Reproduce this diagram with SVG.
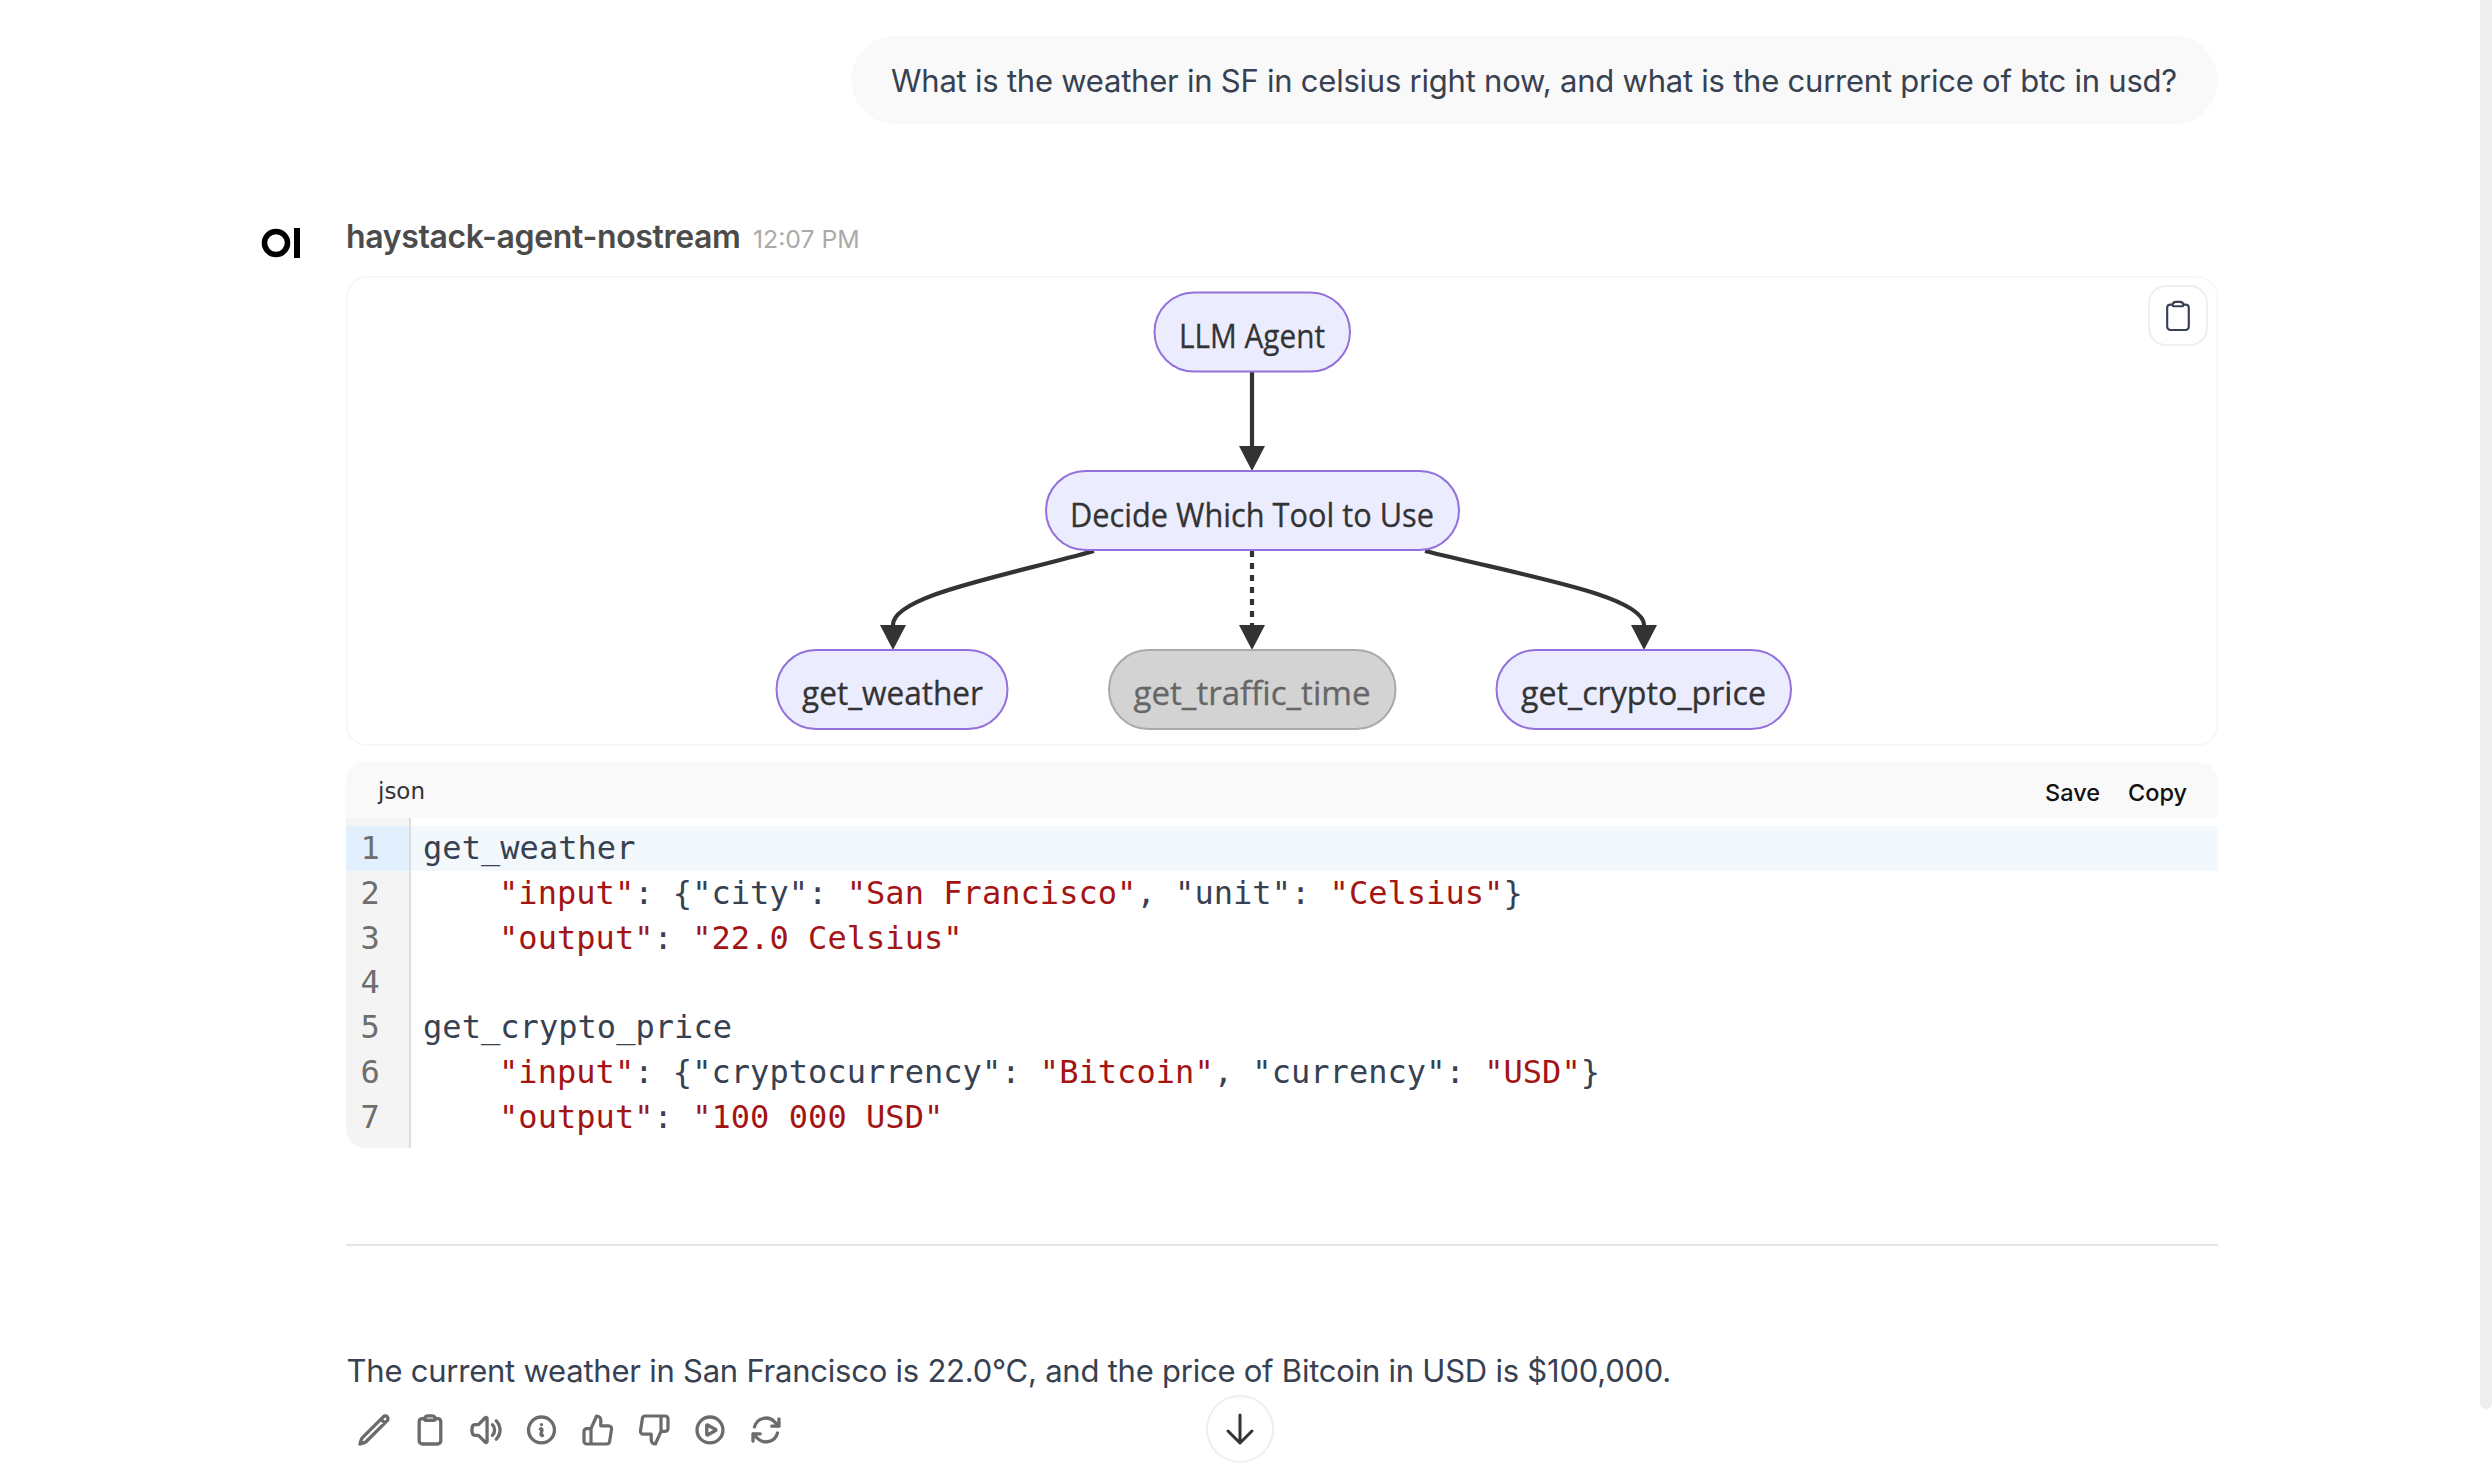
<svg xmlns="http://www.w3.org/2000/svg" width="2492" height="1470" viewBox="0 0 2492 1470">
<style>
text{white-space:pre}
.ui{font-family:Inter,"Noto Sans",sans-serif;font-size:31px;letter-spacing:-.23px;fill:#374151}
.mono{font-family:"DejaVu Sans Mono","Liberation Mono",monospace;font-size:32px;letter-spacing:.05px;fill:#374151}
.r{fill:#a31515}
.ln{font-family:"DejaVu Sans Mono","Liberation Mono",monospace;font-size:32px;fill:#6e6e6e}
.node{fill:#ececff;stroke:#9370db;stroke-width:2}
.off{fill:#d3d3d3;stroke:#aaa;stroke-width:2}
.nt{font-family:"Open Sans","Noto Sans",sans-serif;font-size:32px;fill:#333;stroke:#333;stroke-width:.3;text-anchor:middle}
.edge{fill:none;stroke:#333;stroke-width:4.2}
.ic{fill:none;stroke:#6b6b6b;stroke-width:2.3;stroke-linecap:round;stroke-linejoin:round}
.btn{font-family:Inter,"Noto Sans",sans-serif;font-size:23.5px;font-weight:500;fill:#111}
</style>
<defs>
<marker id="arrow" markerUnits="userSpaceOnUse" markerWidth="25" markerHeight="26" refX="0" refY="13" orient="auto"><path d="M0,0L25,13L0,26z" fill="#333"/></marker>
</defs>
<rect width="2492" height="1470" fill="#fff"/>
<rect id="scrollbar" x="2480" y="-20" width="12" height="1429" rx="6" fill="#eee"/>
<g id="user-message">
<rect x="851" y="36" width="1367" height="88" rx="44" fill="#f9f9f9"/>
<text class="ui" x="891" y="92">What is the weather in SF in celsius right now, and what is the current price of btc in usd?</text>
</g>
<g id="model-header">
<circle cx="276" cy="243" r="11.5" fill="none" stroke="#000" stroke-width="5.6"/>
<rect x="294" y="228" width="6" height="30" fill="#000"/>
<text x="346" y="248" style="font-family:Inter,'Noto Sans',sans-serif;font-size:32px;letter-spacing:-.35px;font-weight:600;fill:#4b4b4b">haystack-agent-nostream</text>
<text x="753" y="248" style="font-family:Inter,'Noto Sans',sans-serif;font-size:24.800px;fill:#aaa">12:07 PM</text>
</g>
<g id="diagram-card">
<rect x="347" y="277" width="1870.500" height="468" rx="20" fill="#fff" stroke="#f7f7f7" stroke-width="2"/>
<rect x="2149" y="286" width="58" height="59" rx="17" fill="#fff" stroke="#efefef" stroke-width="2"/>
<path transform="translate(2160.700,298.700) scale(1.44)" style="fill:none;stroke:#374151;stroke-width:1.500;stroke-linecap:round;stroke-linejoin:round" d="M15.666 3.888A2.25 2.25 0 0 0 13.5 2.25h-3c-1.03 0-1.9.693-2.166 1.638m7.332 0c.055.194.084.4.084.612v0a.75.75 0 0 1-.75.75H9a.75.75 0 0 1-.75-.75v0c0-.212.03-.418.084-.612m7.332 0c.646.049 1.288.11 1.927.184 1.1.128 1.907 1.077 1.907 2.185V19.5a2.25 2.25 0 0 1-2.25 2.25H6.75A2.25 2.25 0 0 1 4.5 19.5V6.257c0-1.108.806-2.057 1.907-2.185a48.208 48.208 0 0 1 1.927-.184"/>
</g>
<g id="connectors">
<path class="edge" marker-end="url(#arrow)" d="M1252,372V446"/>
<path class="edge" marker-end="url(#arrow)" d="M1094,551C1000,577 893,596 893,625"/>
<path class="edge" marker-end="url(#arrow)" stroke-dasharray="6 6" d="M1252,551V625"/>
<path class="edge" marker-end="url(#arrow)" d="M1425,551C1530,577 1644,596 1644,625"/>
</g>
<g id="node-llm"><rect class="node" x="1154.500" y="292.500" width="195.500" height="79" rx="39.500"/><text class="nt" x="1252" y="347.500" textLength="146" lengthAdjust="spacingAndGlyphs">LLM Agent</text></g>
<g id="node-decide"><rect class="node" x="1046" y="471" width="413" height="79" rx="39.500"/><text class="nt" x="1252" y="526.500" textLength="364" lengthAdjust="spacingAndGlyphs">Decide Which Tool to Use</text></g>
<g id="node-weather"><rect class="node" x="776.500" y="650" width="231" height="79" rx="39.500"/><text class="nt" x="892.500" y="705" textLength="181" lengthAdjust="spacingAndGlyphs">get_weather</text></g>
<g id="node-traffic"><rect class="off" x="1109" y="650" width="286.500" height="79" rx="39.500"/><text class="nt" x="1252" y="705" textLength="237" lengthAdjust="spacingAndGlyphs" style="fill:#666;stroke:#666">get_traffic_time</text></g>
<g id="node-crypto"><rect class="node" x="1496.500" y="650" width="294.500" height="79" rx="39.500"/><text class="nt" x="1643.500" y="705" textLength="245" lengthAdjust="spacingAndGlyphs">get_crypto_price</text></g>
<g id="code-block">
<path d="M346,818V782a20,20 0 0 1 20,-20H2198a20,20 0 0 1 20,20V818z" fill="#f9f9f9"/>
<text x="378" y="799" style="font-family:'DejaVu Sans','Noto Sans',sans-serif;font-size:23px;fill:#333">json</text>
<text class="btn" x="2045" y="801">Save</text>
<text class="btn" x="2128" y="801">Copy</text>
<path d="M346,818H410V1148H366a20,20 0 0 1 -20,-20z" fill="#f4f4f4"/>
<rect x="410" y="826" width="1808" height="45" fill="#f2f8fc"/>
<rect x="346" y="826" width="64" height="45" fill="#e2f0fe"/>
<rect x="409" y="818" width="2" height="330" fill="#ddd"/>
<text class="ln" x="360.500" y="858.500">1</text>
<text class="ln" x="360.500" y="903.500">2</text>
<text class="ln" x="360.500" y="948.500">3</text>
<text class="ln" x="360.500" y="992.500">4</text>
<text class="ln" x="360.500" y="1037.500">5</text>
<text class="ln" x="360.500" y="1082.500">6</text>
<text class="ln" x="360.500" y="1127.500">7</text>
<text class="mono" x="423" y="858.500">get_weather</text>
<text class="mono" x="499" y="903.500"><tspan class="r">"input"</tspan>: {"city": <tspan class="r">"San Francisco"</tspan>, "unit": <tspan class="r">"Celsius"</tspan>}</text>
<text class="mono" x="499" y="948.500"><tspan class="r">"output"</tspan>: <tspan class="r">"22.0 Celsius"</tspan></text>
<text class="mono" x="423" y="1037.500">get_crypto_price</text>
<text class="mono" x="499" y="1082.500"><tspan class="r">"input"</tspan>: {"cryptocurrency": <tspan class="r">"Bitcoin"</tspan>, "currency": <tspan class="r">"USD"</tspan>}</text>
<text class="mono" x="499" y="1127.500"><tspan class="r">"output"</tspan>: <tspan class="r">"100 000 USD"</tspan></text>
</g>
<rect id="divider" x="346" y="1244" width="1872" height="2" fill="#e5e5e5"/>
<text id="answer" class="ui" x="346.500" y="1382">The current weather in San Francisco is 22.0°C, and the price of Bitcoin in USD is $100,000.</text>
<g id="actions">
<path class="ic" transform="translate(356.700,1412.700) scale(1.44)" d="m16.862 4.487 1.687-1.688a1.875 1.875 0 1 1 2.652 2.652L6.832 19.82a4.5 4.5 0 0 1-1.897 1.13l-2.685.8.8-2.685a4.5 4.5 0 0 1 1.13-1.897L16.863 4.487Zm0 0L19.5 7.125"/>
<path class="ic" transform="translate(412.700,1412.700) scale(1.44)" d="M15.666 3.888A2.25 2.25 0 0 0 13.5 2.25h-3c-1.03 0-1.9.693-2.166 1.638m7.332 0c.055.194.084.4.084.612v0a.75.75 0 0 1-.75.75H9a.75.75 0 0 1-.75-.75v0c0-.212.03-.418.084-.612m7.332 0c.646.049 1.288.11 1.927.184 1.1.128 1.907 1.077 1.907 2.185V19.5a2.25 2.25 0 0 1-2.25 2.25H6.75A2.25 2.25 0 0 1 4.5 19.5V6.257c0-1.108.806-2.057 1.907-2.185a48.208 48.208 0 0 1 1.927-.184"/>
<path class="ic" transform="translate(468.700,1412.700) scale(1.44)" d="M19.114 5.636a9 9 0 010 12.728M16.463 8.288a5.25 5.25 0 010 7.424M6.75 8.25l4.72-4.72a.75.75 0 011.28.53v15.88a.75.75 0 01-1.28.53l-4.72-4.72H4.51c-.88 0-1.704-.507-1.938-1.354A9.01 9.01 0 012.25 12c0-.83.112-1.633.322-2.396C2.806 8.756 3.63 8.25 4.51 8.25H6.75z"/>
<path class="ic" transform="translate(524.200,1412.700) scale(1.44)" d="M11.25 11.25l.041-.02a.75.75 0 011.063.852l-.708 2.836a.75.75 0 001.063.853l.041-.021M21 12a9 9 0 11-18 0 9 9 0 0118 0zm-9-3.75h.008v.008H12V8.25z"/>
<path class="ic" transform="translate(581.200,1413.200) scale(1.4)" d="M14 9V5a3 3 0 0 0-3-3l-4 9v11h11.28a2 2 0 0 0 2-1.7l1.38-9a2 2 0 0 0-2-2.3zM7 22H4a2 2 0 0 1-2-2v-7a2 2 0 0 1 2-2h3"/>
<path class="ic" transform="translate(637.200,1413.200) scale(1.4)" d="M10 15v4a3 3 0 0 0 3 3l4-9V2H5.72a2 2 0 0 0-2 1.7l-1.38 9a2 2 0 0 0 2 2.3zm7-13h2.67A2.31 2.31 0 0 1 22 4v7a2.31 2.31 0 0 1-2.33 2H17"/>
<path class="ic" transform="translate(692.700,1412.700) scale(1.44)" d="M21 12a9 9 0 1 1-18 0 9 9 0 0 1 18 0ZM15.91 11.672a.375.375 0 0 1 0 .656l-5.603 3.113a.375.375 0 0 1-.557-.328V8.887c0-.286.307-.466.557-.327l5.603 3.112Z"/>
<path class="ic" transform="translate(748.700,1412.700) scale(1.44)" d="M16.023 9.348h4.992v-.001M2.985 19.644v-4.992m0 0h4.992m-4.993 0 3.181 3.183a8.25 8.25 0 0 0 13.803-3.7M4.031 9.865a8.25 8.25 0 0 1 13.803-3.7l3.181 3.182m0-4.991v4.99"/>
</g>
<g id="scroll-down">
<circle cx="1240" cy="1429" r="33" fill="#fff" stroke="#eee" stroke-width="2"/>
<path d="M1240,1415V1443M1228,1431L1240,1443L1252,1431" fill="none" stroke="#333" stroke-width="3" stroke-linecap="round" stroke-linejoin="round"/>
</g>
</svg>
